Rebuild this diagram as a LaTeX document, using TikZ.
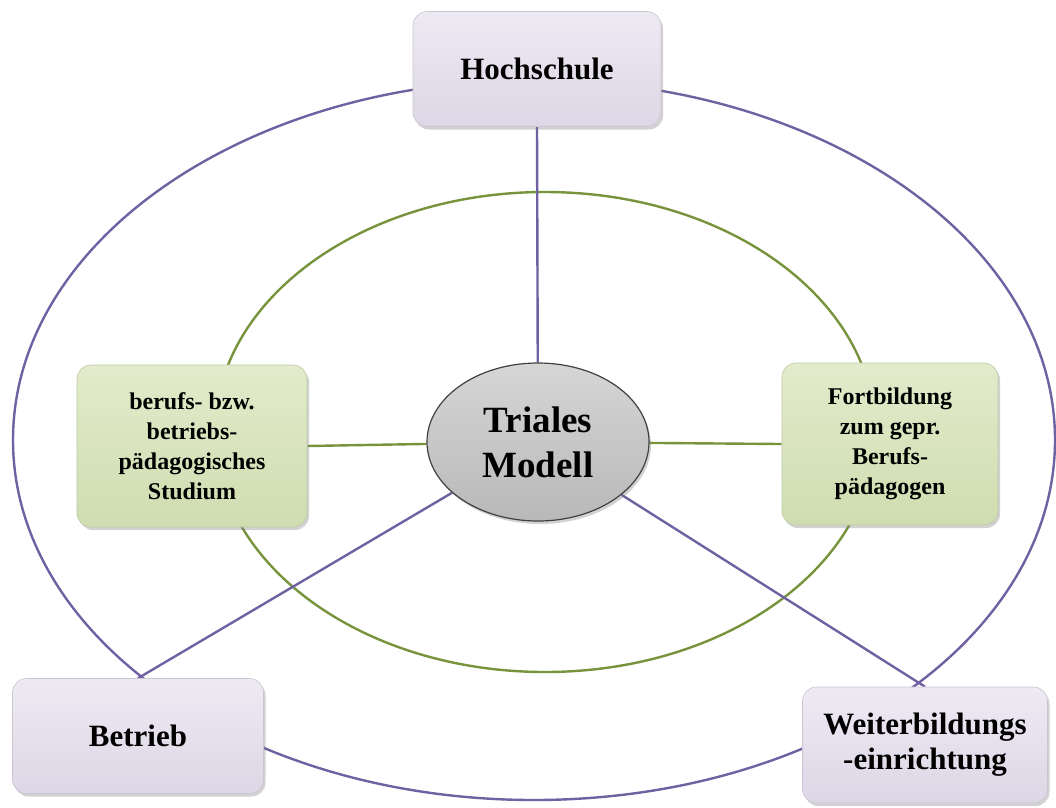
\documentclass[tikz,border=0pt]{standalone}
\usepackage{fontspec}
\setmainfont{Liberation Serif}
\usetikzlibrary{shapes.geometric,shadows,backgrounds}
\definecolor{purpleline}{HTML}{7062A2}
\definecolor{greenline}{HTML}{77933C}
\definecolor{lavtop}{HTML}{EEEAF3}
\definecolor{lavbot}{HTML}{DDD6E6}
\definecolor{grntop}{HTML}{E2EBCB}
\definecolor{grnbot}{HTML}{CFDDB0}
\definecolor{graytop}{HTML}{D6D6D6}
\definecolor{graybot}{HTML}{B8B8B8}
\tikzset{
  lavbox/.style={rectangle, rounded corners=14pt, top color=lavtop, bottom color=lavbot,
    draw=lavbot!80!gray, line width=0.6pt, align=center, inner sep=0pt,
    font=\bfseries\fontsize{31}{35}\selectfont,
    drop shadow={shadow xshift=2pt, shadow yshift=-3pt, opacity=0.35, fill=gray}},
  grnbox/.style={rectangle, rounded corners=14pt, top color=grntop, bottom color=grnbot,
    draw=grnbot!80!gray, line width=0.6pt, align=center, inner sep=0pt,
    font=\bfseries\fontsize{24}{30}\selectfont,
    drop shadow={shadow xshift=2pt, shadow yshift=-3pt, opacity=0.35, fill=gray}},
  hubnode/.style={ellipse, top color=graytop, bottom color=graybot, draw=black!75,
    line width=1.2pt, align=center, inner sep=0pt,
    minimum width=222pt, minimum height=158pt,
    font=\bfseries\fontsize{37}{45}\selectfont,
    drop shadow={shadow xshift=2pt, shadow yshift=-3pt, opacity=0.35, fill=gray}},
  pline/.style={draw=purpleline, line width=2.4pt},
  gline/.style={draw=greenline, line width=2.4pt},
}
\begin{document}
\begin{tikzpicture}[x=1pt,y=-1pt]
\useasboundingbox (0,0) rectangle (1056,807);
\node[lavbox, minimum width=248pt, minimum height=115pt] (hoch) at (537,69) {Hochschule};
\node[grnbox, minimum width=230pt, minimum height=162pt] (stud) at (192,446)
  {berufs- bzw.\\betriebs-\\pädagogisches\\Studium};
\node[grnbox, minimum width=216pt, minimum height=162pt] (fort) at (890,444)
  {Fortbildung\\zum gepr.\\Berufs-\\pädagogen};
\node[lavbox, minimum width=251pt, minimum height=115pt] (betr) at (138,736) {Betrieb};
\node[lavbox, minimum width=245pt, minimum height=116pt] (weit) at (925,745)
  {Weiterbildungs\\-einrichtung};
\node[hubnode] (tri) at (538,442) {Triales\\Modell};
\begin{scope}[on background layer]
  \fill[white] (0,0) rectangle (1056,807);
  \draw[pline] (534,440) ellipse [x radius=521pt, y radius=360pt];
  \draw[gline] (545,432) ellipse [x radius=330pt, y radius=240pt];
  \draw[pline] (hoch.south) -- (tri);
  \draw[pline] (tri) -- (betr.north);
  \draw[pline] (tri) -- (weit.north);
  \draw[gline] (stud.east) -- (tri);
  \draw[gline] (tri) -- (fort.west);
\end{scope}
\end{tikzpicture}
\end{document}
